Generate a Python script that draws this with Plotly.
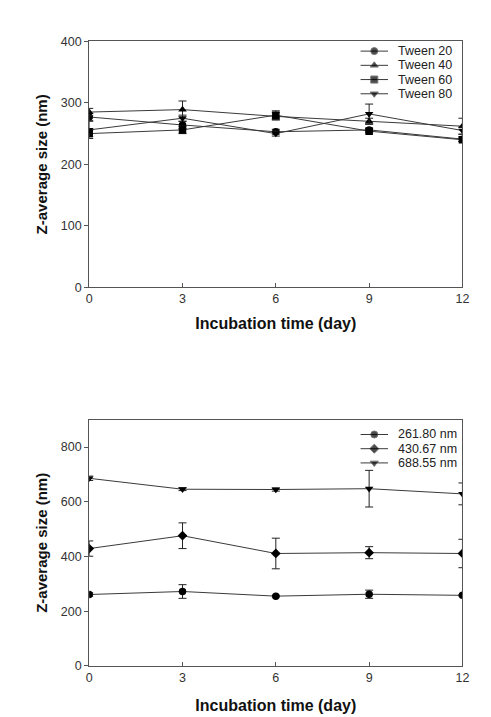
import plotly.graph_objects as go

days = [0, 3, 6, 9, 12]

# Top panel: Tween series
tween_names = ["Tween 20", "Tween 40", "Tween 60", "Tween 80"]
tween20 = [277, 264, 253, 256, 241]
tween20_err = [6, 6, 4, 3, 4]
tween40 = [285, 289, 278, 270, 262]
tween40_err = [6, 14, 6, 5, 13]
tween60 = [250, 256, 280, 254, 240]
tween60_err = [5, 6, 7, 3, 3]
tween80 = [256, 275, 250, 282, 255]
tween80_err = [14, 5, 4, 16, 6]

# Bottom panel: particle size series
size_names = ["261.80 nm", "430.67 nm", "688.55 nm"]
s262 = [261, 272, 255, 262, 258]
s262_err = [6, 25, 3, 15, 3]
s431 = [429, 476, 411, 414, 411]
s431_err = [28, 47, 56, 22, 52]
s689 = [686, 646, 645, 648, 629]
s689_err = [8, 5, 6, 67, 40]

W, H = 491, 717
fig = go.Figure()

line_col = "#3a3a3a"
tick_font = dict(family="Liberation Sans, Arial", size=12.5, color="#333333")
xtitle_font = dict(family="Liberation Sans, Arial", size=16, color="#111111")
ytitle_font = dict(family="Liberation Sans, Arial", size=15, color="#111111")
leg_font = dict(family="Liberation Sans, Arial", size=12.5, color="#222222")

top_series = [
    (tween_names[0], tween20, tween20_err, "circle"),
    (tween_names[1], tween40, tween40_err, "triangle-up"),
    (tween_names[2], tween60, tween60_err, "square"),
    (tween_names[3], tween80, tween80_err, "triangle-down"),
]
bot_series = [
    (size_names[0], s262, s262_err, "circle"),
    (size_names[1], s431, s431_err, "diamond"),
    (size_names[2], s689, s689_err, "triangle-down"),
]

for series, xa, ya in [(top_series, "x", "y"), (bot_series, "x2", "y2")]:
    for name, y, e, sym in series:
        fig.add_trace(go.Scatter(
            x=days, y=y, name=name, mode="lines+markers",
            line=dict(color=line_col, width=1),
            marker=dict(symbol=sym, size=7.5, color="black"),
            error_y=dict(type="data", array=e, visible=True, color="#222222",
                         thickness=1, width=4),
            xaxis=xa, yaxis=ya, showlegend=False,
        ))

# Manual compact legends on an invisible overlay axis (pixel coordinates)
legend_specs = [
    (top_series, 45, 14.5),
    (bot_series, 436, 14.5),
]
for series, y0, dy in legend_specs:
    for i, (name, _, _, sym) in enumerate(series):
        yy = y0 + i * dy
        fig.add_trace(go.Scatter(
            x=[365, 379, 393], y=[yy, yy, yy], mode="lines+markers",
            line=dict(color=line_col, width=1),
            marker=dict(symbol=sym, size=[0, 7, 0], color="black"),
            xaxis="x3", yaxis="y3", showlegend=False, hoverinfo="skip",
        ))
        fig.add_annotation(x=401, y=yy, xref="x3", yref="y3", text=name,
                           showarrow=False, xanchor="left", yanchor="middle",
                           font=leg_font)

xdom = [88 / W, 469 / W]
common_x = dict(
    range=[0, 12], tickvals=[0, 3, 6, 9, 12], ticks="inside", ticklen=4,
    tickcolor="#555555", showline=True, linecolor="#555555", linewidth=1,
    mirror=True, showgrid=False, zeroline=False, tickfont=tick_font,
    domain=xdom,
)
common_y = dict(
    ticks="outside", ticklen=4, tickcolor="#555555", showline=True,
    linecolor="#555555", linewidth=1, mirror=True, showgrid=False,
    zeroline=False, tickfont=tick_font,
    title=dict(text="<b>Z-average size (nm)</b>", font=ytitle_font, standoff=9),
)

fig.update_layout(
    width=W, height=H,
    margin=dict(l=0, r=0, t=0, b=0),
    paper_bgcolor="white", plot_bgcolor="rgba(0,0,0,0)",
    font=dict(family="Liberation Sans, Arial"),
    showlegend=False,
    xaxis=dict(**common_x, anchor="y",
               title=dict(text="<b>Incubation time (day)</b>", font=xtitle_font, standoff=12)),
    yaxis=dict(**common_y, range=[0, 400], tickvals=[0, 100, 200, 300, 400],
               domain=[1 - 286 / H, 1 - 35 / H], anchor="x"),
    xaxis2=dict(**common_x, anchor="y2",
                title=dict(text="<b>Incubation time (day)</b>", font=xtitle_font, standoff=15)),
    yaxis2=dict(**common_y, range=[0, 900], tickvals=[0, 200, 400, 600, 800],
                domain=[1 - 672 / H, 1 - 421 / H], anchor="x2"),
    xaxis3=dict(domain=[0, 1], range=[0, W], visible=False, fixedrange=True,
                anchor="y3"),
    yaxis3=dict(domain=[0, 1], range=[H, 0], visible=False, fixedrange=True,
                anchor="x3"),
)

fig.write_html("out.html")
